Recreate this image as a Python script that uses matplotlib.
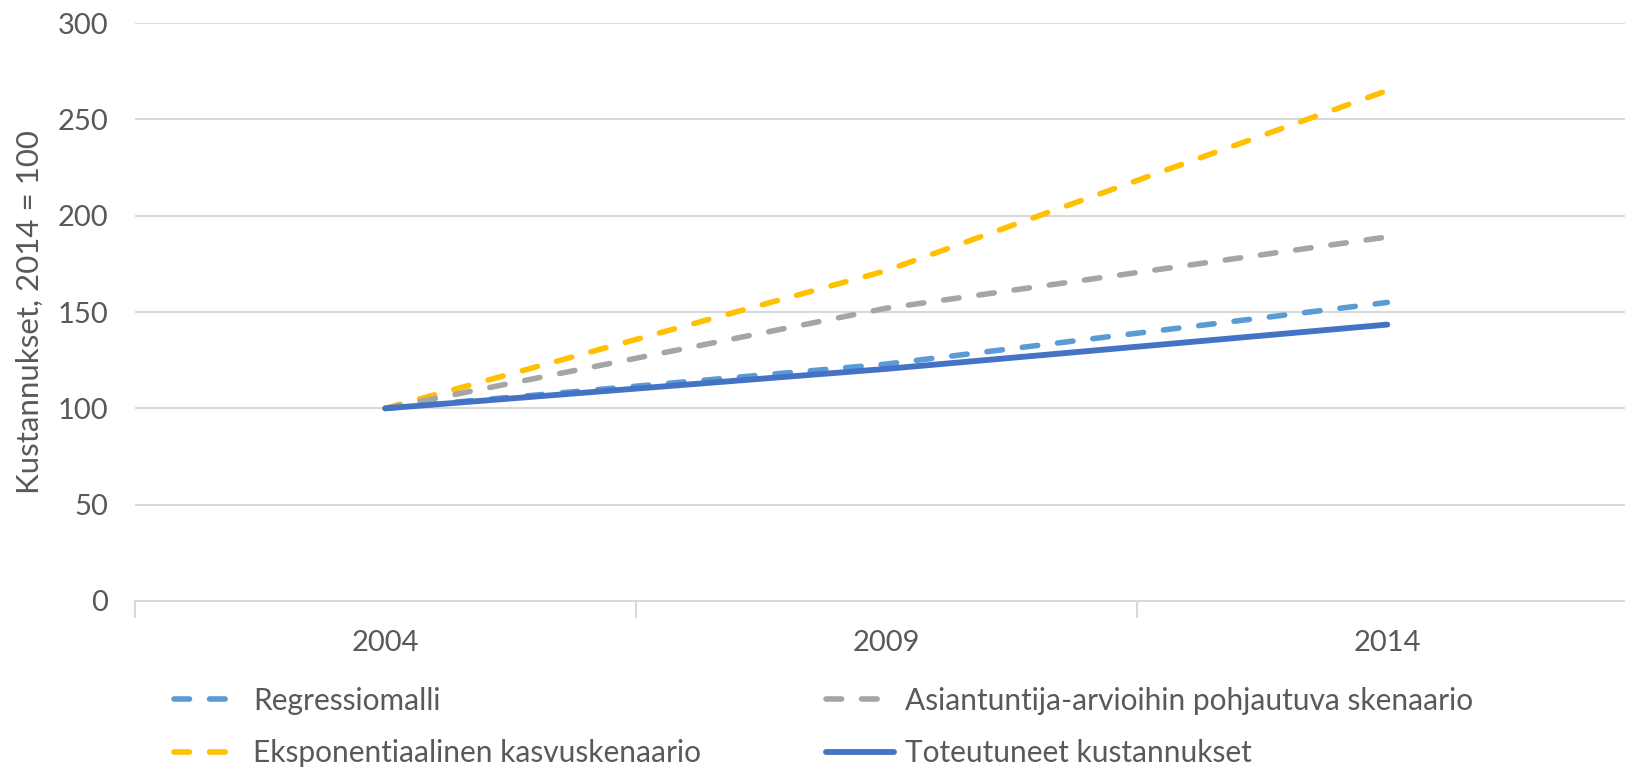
import matplotlib
matplotlib.use("Agg")
import matplotlib.pyplot as plt
from matplotlib.ticker import FixedLocator

plt.rcParams["font.family"] = ["Lato", "DejaVu Sans"]

years = ["2004", "2009", "2014"]
regressio = [100, 123, 155]
asiantuntija = [100, 152, 189]
eksponentiaalinen = [100, 171.5, 265]
toteutuneet = [100, 120.5, 143.5]

TEXT = "#595959"
GRID = "#D9D9D9"

fig = plt.figure(figsize=(16.25, 7.71), dpi=100)
# axes runs a little past the right edge of the figure, as in the original
ax = fig.add_axes([0.0829, 0.2205, 0.925, 0.7495])

x = range(len(years))
dash = dict(linestyle=(0, (2.8, 3.6)), dash_capstyle="round", linewidth=4.0)
l_reg, = ax.plot(x, regressio, color="#5B9BD5", label="Regressiomalli", **dash)
l_exp, = ax.plot(x, eksponentiaalinen, color="#FFC000", label="Eksponentiaalinen kasvuskenaario", **dash)
l_asi, = ax.plot(x, asiantuntija, color="#A5A5A5", label="Asiantuntija-arvioihin pohjautuva skenaario", **dash)
l_tot, = ax.plot(x, toteutuneet, color="#4472C4", linewidth=4.2, solid_capstyle="round",
                 label="Toteutuneet kustannukset")

ax.set_xlim(-0.5, 2.5)
ax.set_ylim(0, 300)
ax.set_yticks(range(0, 301, 50))
ax.set_xticks(list(x))
ax.set_xticklabels(years)
ax.xaxis.set_minor_locator(FixedLocator([-0.5, 0.5, 1.5, 2.5]))

ax.grid(axis="y", color=GRID, linewidth=1.5)
ax.set_axisbelow(True)
for s in ["top", "right", "left"]:
    ax.spines[s].set_visible(False)
ax.spines["bottom"].set_color(GRID)
ax.spines["bottom"].set_linewidth(1.5)

ax.tick_params(axis="y", length=0, pad=19, labelsize=21, labelcolor=TEXT)
ax.tick_params(axis="x", which="major", length=0, pad=21, labelsize=21, labelcolor=TEXT)
ax.tick_params(axis="x", which="minor", length=12, width=1.5, color=GRID)

ax.set_ylabel("Kustannukset, 2014 = 100", fontsize=22.5, color=TEXT, labelpad=10)

leg_kw = dict(loc="lower left", frameon=False, fontsize=21.5, labelcolor=TEXT,
              handlelength=2.3, handletextpad=0.35, labelspacing=0.82, borderpad=0,
              borderaxespad=0)
fig.legend([l_reg, l_exp], [l_reg.get_label(), l_exp.get_label()],
           bbox_to_anchor=(0.107, 0.005), **leg_kw)
fig.legend([l_asi, l_tot], [l_asi.get_label(), l_tot.get_label()],
           bbox_to_anchor=(0.508, 0.005), **leg_kw)

fig.savefig("out.png", dpi=100)
